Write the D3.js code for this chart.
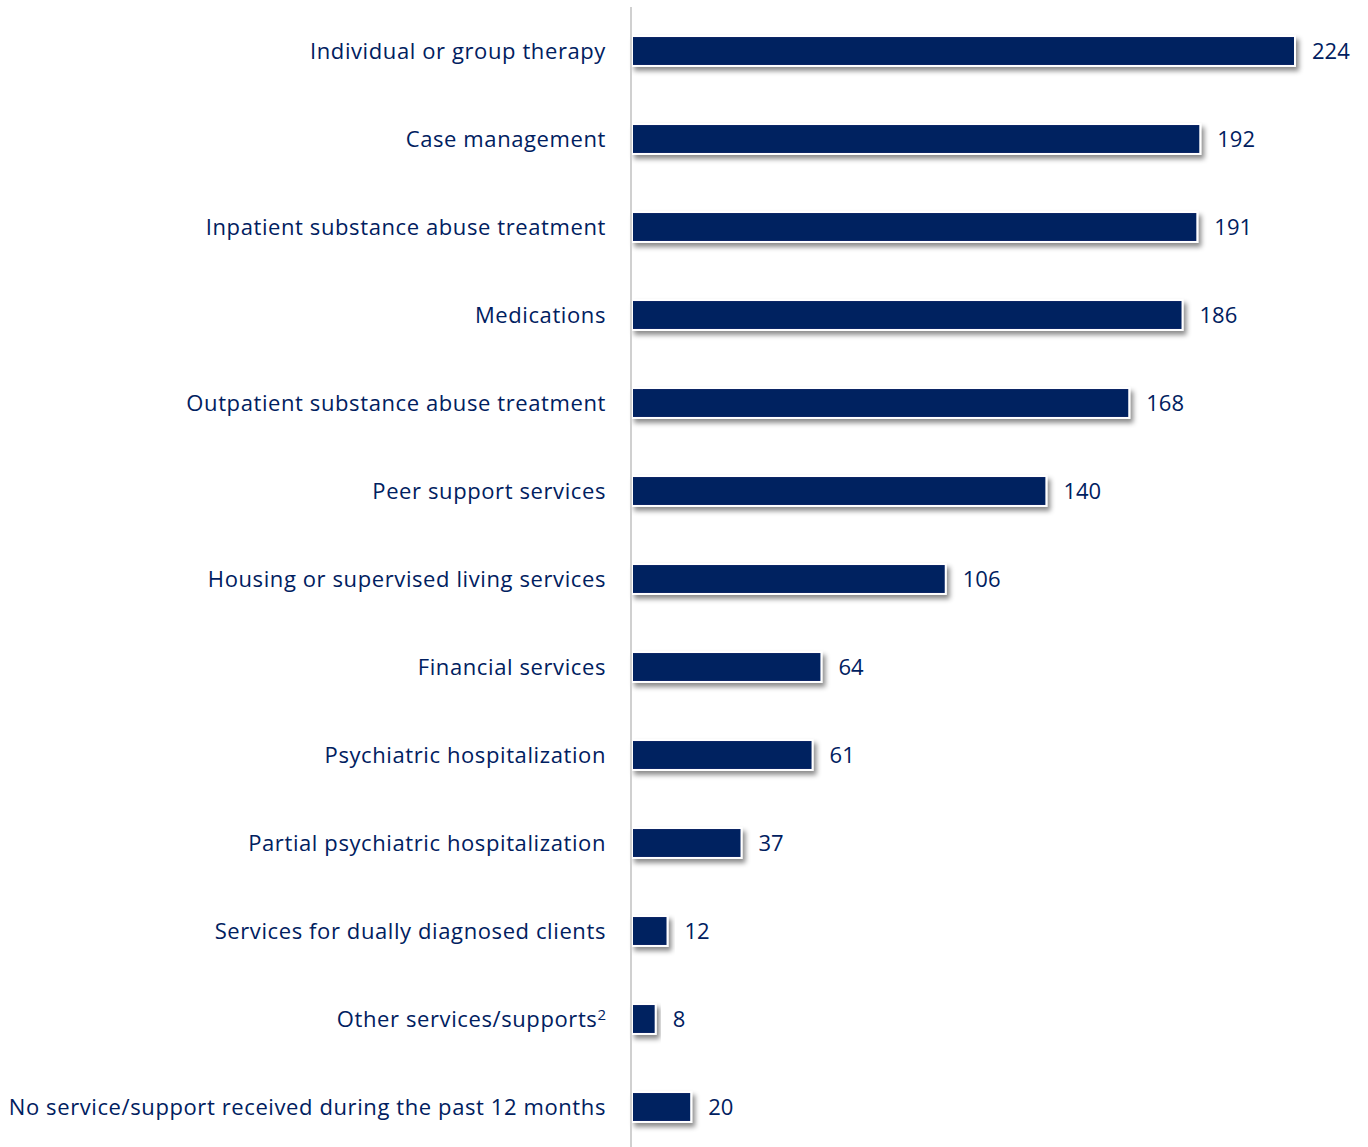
<!DOCTYPE html>
<html>
<head>
<meta charset="utf-8">
<script src="https://cdn.jsdelivr.net/npm/d3@7"></script>
<style>
  body { margin: 0; background: #fff; }
  text { font-family: "Open Sans", "Noto Sans", sans-serif; fill: #002060; }
</style>
</head>
<body>
<svg id="chart" width="1368" height="1147"></svg>
<script>
// categories and counts, top to bottom
const categories = [
    "Individual or group therapy",
    "Case management",
    "Inpatient substance abuse treatment",
    "Medications",
    "Outpatient substance abuse treatment",
    "Peer support services",
    "Housing or supervised living services",
    "Financial services",
    "Psychiatric hospitalization",
    "Partial psychiatric hospitalization",
    "Services for dually diagnosed clients",
    "Other services/supports",
    "No service/support received during the past 12 months"
];
const counts = [224, 192, 191, 186, 168, 140, 106, 64, 61, 37, 12, 8, 20];
const footnotes = ["", "", "", "", "", "", "", "", "", "", "", "2", ""];

const svg = d3.select('#chart');
const axisX = 631;

let x = d3.scaleLinear().domain([0, 224]).range([axisX + 1, 1295]);
let y = d3.scaleBand().domain(categories).range([7, 1151])
          .paddingInner(0.66).paddingOuter(0.33);

// drop shadow for the bars
let defs = svg.append('defs');
let f = defs.append('filter').attr('id', 'shadow')
            .attr('x', '-10%').attr('y', '-30%').attr('width', '130%').attr('height', '190%');
f.append('feDropShadow').attr('dx', 3).attr('dy', 4).attr('stdDeviation', 2.5)
 .attr('flood-color', '#000').attr('flood-opacity', 0.45);

let data = categories.map((c, i) => ({cat: c, value: counts[i], note: footnotes[i]}));

svg.selectAll('rect.bar').data(data).enter()
   .append('rect')
   .classed('bar', true)
   .attr('x', x(0))
   .attr('y', d => y(d.cat))
   .attr('width', d => x(d.value) - x(0))
   .attr('height', y.bandwidth())
   .attr('fill', '#002060')
   .attr('stroke', '#fff')
   .attr('stroke-width', 2)
   .attr('filter', 'url(#shadow)');

// vertical axis line
svg.append('line')
   .attr('x1', axisX).attr('x2', axisX)
   .attr('y1', 7).attr('y2', 1147)
   .attr('stroke', '#d0d0d0').attr('stroke-width', 2);

// category labels
let labels = svg.selectAll('text.cat').data(data).enter()
   .append('text')
   .classed('cat', true)
   .attr('x', 606)
   .attr('y', d => y(d.cat) + y.bandwidth() / 2)
   .attr('dy', '0.38em')
   .attr('text-anchor', 'end')
   .style('font-size', '22px')
   .style('letter-spacing', '0.6px');
labels.append('tspan').text(d => d.cat);
labels.filter(d => d.note).append('tspan')
   .attr('dy', '-0.5em')
   .style('font-size', '15px')
   .style('letter-spacing', '0px')
   .text(d => d.note);

// value labels
svg.selectAll('text.val').data(data).enter()
   .append('text')
   .classed('val', true)
   .attr('x', d => x(d.value) + 17)
   .attr('y', d => y(d.cat) + y.bandwidth() / 2)
   .attr('dy', '0.38em')
   .style('font-size', '22px')
   .text(d => d.value);
</script>
</body>
</html>
